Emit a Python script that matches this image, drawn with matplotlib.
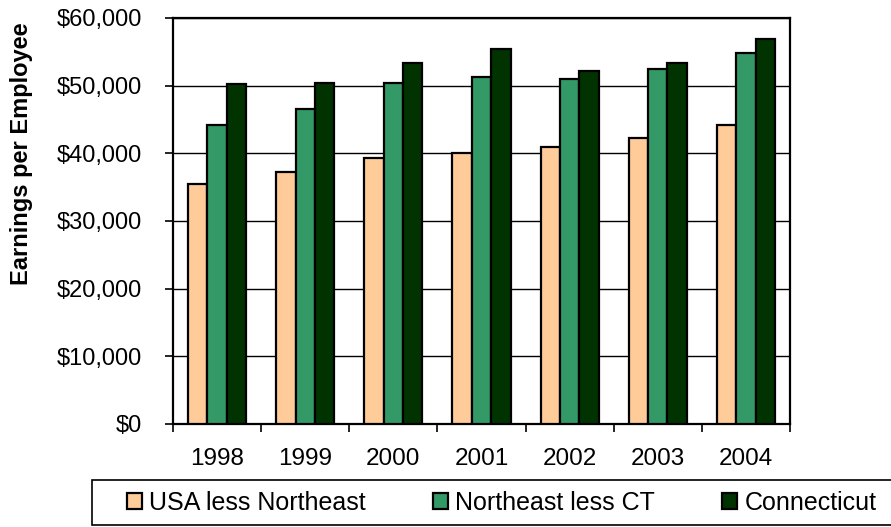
import matplotlib
matplotlib.use("Agg")
import matplotlib.pyplot as plt
import numpy as np
from matplotlib.patches import Rectangle
from matplotlib.ticker import FuncFormatter, FixedLocator

years = ["1998", "1999", "2000", "2001", "2002", "2003", "2004"]
usa_less_ne = [35400, 37200, 39300, 40100, 41000, 42200, 44200]
ne_less_ct = [44200, 46600, 50400, 51300, 51000, 52400, 54900]
connecticut = [50200, 50400, 53400, 55400, 52200, 53400, 56900]

series = [
    ("USA less Northeast", usa_less_ne, "#FFCC99"),
    ("Northeast less CT", ne_less_ct, "#339966"),
    ("Connecticut", connecticut, "#003300"),
]

plt.rcParams["font.family"] = ["Liberation Sans", "DejaVu Sans"]

W, H = 891, 527
fig = plt.figure(figsize=(W / 100, H / 100), dpi=100)
ax = fig.add_axes([173 / W, 1 - 424 / H, (790 - 173) / W, (424 - 18) / H])

x = np.arange(len(years))
bw = 0.22
handles = []
for i, (name, vals, col) in enumerate(series):
    b = ax.bar(x + (i - 1) * bw, vals, width=bw, color=col,
               edgecolor="black", linewidth=1.6, label=name, zorder=3)
    handles.append(b)

ax.set_xlim(-0.5, len(years) - 0.5)
ax.set_ylim(0, 60000)
ax.set_yticks(np.arange(0, 60001, 10000))
ax.yaxis.set_major_formatter(FuncFormatter(lambda v, p: f"${v:,.0f}"))
ax.yaxis.grid(True, color="black", linewidth=1.0, zorder=0)
ax.set_axisbelow(True)

ax.set_xticks(x)
ax.set_xticklabels(years)
ax.xaxis.set_minor_locator(FixedLocator(np.arange(-0.5, len(years), 1.0)))
ax.tick_params(axis="x", which="major", length=0, pad=17, labelsize=17.5)
ax.tick_params(axis="x", which="minor", length=6, width=1.2, direction="out")
ax.tick_params(axis="y", which="major", length=6, width=1.2, direction="out",
               pad=16, labelsize=17)

for s in ax.spines.values():
    s.set_linewidth(1.6)
    s.set_color("black")

ax.text((22 - 173) / 617, (424 - 153.5) / 406, "Earnings per Employee",
        transform=ax.transAxes, rotation=90, ha="center", va="center",
        fontsize=17, fontweight="bold")

# legend box spanning the bottom of the figure
fig.add_artist(Rectangle((92 / W, 1 - 525 / H), (W + 5 - 92) / W, 45 / H,
                         transform=fig.transFigure, facecolor="white",
                         edgecolor="black", linewidth=1.2, clip_on=False))

leg = fig.legend(handles=handles, loc="center left", ncol=3,
                 bbox_to_anchor=(127 / W, 1 - 502.5 / H),
                 frameon=False, fontsize=18, handlelength=0.6,
                 handleheight=0.6, handletextpad=0.29, columnspacing=2.68,
                 borderaxespad=0.0, borderpad=0.0)

fig.savefig("out.png", dpi=100)
